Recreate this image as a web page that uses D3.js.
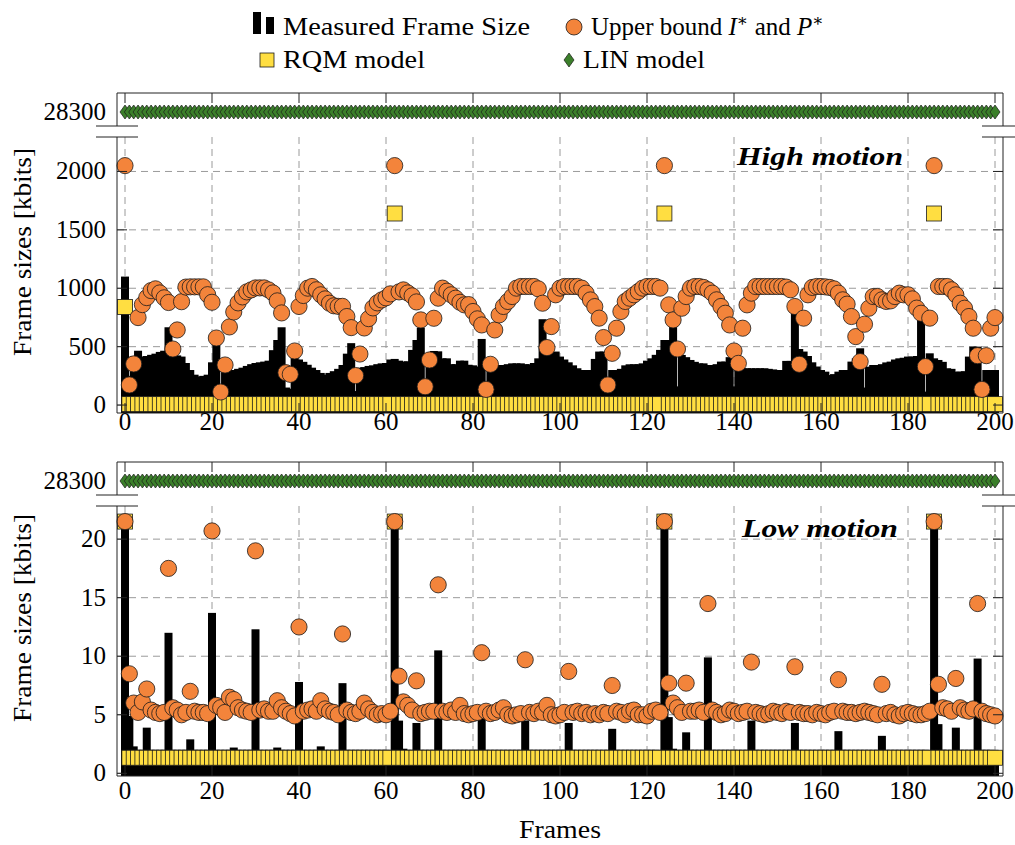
<!DOCTYPE html>
<html>
<head>
<meta charset="utf-8">
<script src="https://cdnjs.cloudflare.com/ajax/libs/d3/7.8.5/d3.min.js"></script>
<style>
  body { margin: 0; background: #fff; }
  svg text { font-family: "Liberation Serif", "DejaVu Serif", serif; fill: #000; }
</style>
</head>
<body>
<div id="chart"></div>
<script>
// frame index 0..200
var frames = d3.range(0, 201);
var frameTicks = [0, 20, 40, 60, 80, 100, 120, 140, 160, 180, 200];

// ---- high motion panel ----
var highTicks = [0, 500, 1000, 1500, 2000];
var highMeasured = [
  1100, 250, 420, 465, 415, 420, 430, 440, 455, 465,
  666, 430, 425, 415, 360, 300, 260, 245, 250, 260,
  366, 592, 130, 290, 295, 300, 310, 320, 335, 350,
  360, 366, 372, 380, 470, 557, 666, 150, 140, 415,
  390, 370, 345, 320, 300, 275, 260, 275, 290, 310,
  343, 440, 530, 120, 320, 325, 335, 340, 350, 357,
  360, 390, 395, 380, 372, 375, 472, 557, 663, 130,
  400, 463, 460, 400, 400, 350, 350, 380, 380, 345,
  340, 330, 566, 140, 330, 335, 343, 343, 350, 357,
  357, 357, 350, 349, 360, 400, 735, 443, 450, 458,
  415, 390, 366, 340, 315, 300, 300, 300, 395, 458,
  458, 200, 300, 300, 310, 340, 349, 349, 350, 357,
  380, 400, 430, 472, 557, 557, 672, 160, 429, 410,
  386, 370, 357, 357, 343, 343, 350, 372, 372, 410,
  160, 300, 315, 315, 315, 315, 315, 315, 310, 305,
  300, 300, 378, 378, 880, 480, 458, 420, 366, 330,
  300, 286, 257, 265, 286, 300, 300, 372, 400, 486,
  150, 329, 343, 343, 350, 365, 372, 390, 400, 405,
  415, 415, 420, 800, 115, 443, 400, 386, 370, 315,
  310, 286, 286, 290, 415, 500, 500, 100, 300, 300,
  300
];
var highUpper = [
  2050, 172, 352, 749, 860, 920, 980, 995, 960, 918,
  878, 480, 643, 885, 1010, 1012, 1012, 1012, 1012, 945,
  880, 574, 112, 343, 669, 797, 875, 926, 969, 986,
  1003, 1003, 1003, 986, 960, 892, 789, 277, 263, 463,
  844, 938, 1001, 1015, 987, 944, 909, 872, 850, 845,
  845, 758, 663, 252, 437, 660, 740, 832, 875, 900,
  918, 952, 2050, 969, 986, 960, 935, 883, 729, 157,
  386, 743, 915, 1001, 975, 944, 915, 880, 858, 860,
  801, 738, 686, 134, 349, 643, 772, 844, 887, 929,
  1001, 1015, 1015, 1015, 1015, 995, 872, 492, 672, 944,
  1001, 1015, 1015, 1015, 1015, 1001, 958, 900, 843, 744,
  578, 172, 443, 658, 801, 887, 915, 944, 972, 1001,
  1015, 1015, 1015, 1001, 2050, 858, 729, 480, 829, 929,
  1001, 1015, 1015, 1007, 987, 958, 901, 844, 786, 686,
  463, 357, 658, 858, 958, 1015, 1015, 1015, 1015, 1015,
  1015, 1015, 1010, 987, 844, 349, 744, 944, 1007, 1015,
  1015, 1012, 1007, 995, 958, 901, 864, 758, 586, 372,
  692, 829, 929, 929, 901, 887, 892, 929, 958, 944,
  944, 909, 830, 786, 329, 744, 2050, 1015, 1015, 1015,
  987, 944, 872, 829, 758, 658, 423, 134, 423, 658,
  749
];
var highRqm = [
  840, 8, 8, 8, 8, 8, 8, 8, 8, 8, 8, 8, 8, 8, 8, 8, 8, 8, 8, 8,
  8, 8, 8, 8, 8, 8, 8, 8, 8, 8, 8, 8, 8, 8, 8, 8, 8, 8, 8, 8,
  8, 8, 8, 8, 8, 8, 8, 8, 8, 8, 8, 8, 8, 8, 8, 8, 8, 8, 8, 8,
  8, 8, 1640, 8, 8, 8, 8, 8, 8, 8, 8, 8, 8, 8, 8, 8, 8, 8, 8, 8,
  8, 8, 8, 8, 8, 8, 8, 8, 8, 8, 8, 8, 8, 8, 8, 8, 8, 8, 8, 8,
  8, 8, 8, 8, 8, 8, 8, 8, 8, 8, 8, 8, 8, 8, 8, 8, 8, 8, 8, 8,
  8, 8, 8, 8, 1640, 8, 8, 8, 8, 8, 8, 8, 8, 8, 8, 8, 8, 8, 8, 8,
  8, 8, 8, 8, 8, 8, 8, 8, 8, 8, 8, 8, 8, 8, 8, 8, 8, 8, 8, 8,
  8, 8, 8, 8, 8, 8, 8, 8, 8, 8, 8, 8, 8, 8, 8, 8, 8, 8, 8, 8,
  8, 8, 8, 8, 8, 8, 1640, 8, 8, 8, 8, 8, 8, 8, 8, 8, 8, 8, 8, 8,
  8
];
var highLin = [
  28300, 28300, 28300, 28300, 28300, 28300, 28300, 28300, 28300, 28300, 28300, 28300, 28300, 28300, 28300, 28300, 28300, 28300, 28300, 28300,
  28300, 28300, 28300, 28300, 28300, 28300, 28300, 28300, 28300, 28300, 28300, 28300, 28300, 28300, 28300, 28300, 28300, 28300, 28300, 28300,
  28300, 28300, 28300, 28300, 28300, 28300, 28300, 28300, 28300, 28300, 28300, 28300, 28300, 28300, 28300, 28300, 28300, 28300, 28300, 28300,
  28300, 28300, 28300, 28300, 28300, 28300, 28300, 28300, 28300, 28300, 28300, 28300, 28300, 28300, 28300, 28300, 28300, 28300, 28300, 28300,
  28300, 28300, 28300, 28300, 28300, 28300, 28300, 28300, 28300, 28300, 28300, 28300, 28300, 28300, 28300, 28300, 28300, 28300, 28300, 28300,
  28300, 28300, 28300, 28300, 28300, 28300, 28300, 28300, 28300, 28300, 28300, 28300, 28300, 28300, 28300, 28300, 28300, 28300, 28300, 28300,
  28300, 28300, 28300, 28300, 28300, 28300, 28300, 28300, 28300, 28300, 28300, 28300, 28300, 28300, 28300, 28300, 28300, 28300, 28300, 28300,
  28300, 28300, 28300, 28300, 28300, 28300, 28300, 28300, 28300, 28300, 28300, 28300, 28300, 28300, 28300, 28300, 28300, 28300, 28300, 28300,
  28300, 28300, 28300, 28300, 28300, 28300, 28300, 28300, 28300, 28300, 28300, 28300, 28300, 28300, 28300, 28300, 28300, 28300, 28300, 28300,
  28300, 28300, 28300, 28300, 28300, 28300, 28300, 28300, 28300, 28300, 28300, 28300, 28300, 28300, 28300, 28300, 28300, 28300, 28300, 28300,
  28300
];

// ---- low motion panel ----
var lowTicks = [0, 5, 10, 15, 20];
var lowMeasured = [
  21.8, 4.9, 2.3, 1.6, 1.6, 3.9, 1.6, 1.6, 1.6, 1.6,
  12.0, 1.6, 1.6, 1.6, 1.6, 2.9, 1.6, 1.6, 1.6, 1.6,
  13.7, 1.6, 1.6, 1.6, 1.6, 2.2, 1.6, 1.6, 1.6, 1.6,
  12.3, 1.6, 1.6, 1.6, 1.6, 2.2, 1.6, 1.6, 1.6, 1.6,
  7.8, 1.6, 1.6, 1.6, 1.6, 2.3, 1.6, 1.6, 1.6, 1.6,
  7.7, 1.6, 1.6, 1.6, 1.6, 1.9, 1.6, 1.6, 1.6, 1.6,
  1.6, 1.6, 21.8, 4.5, 2.1, 1.6, 1.6, 4.3, 1.6, 1.6,
  1.6, 1.6, 10.5, 1.6, 1.6, 1.6, 1.6, 1.9, 1.6, 1.6,
  1.6, 1.6, 5.5, 1.6, 1.6, 1.6, 1.6, 1.9, 1.6, 1.6,
  1.6, 1.6, 4.5, 1.6, 1.6, 1.6, 1.6, 1.9, 1.6, 1.6,
  1.6, 1.6, 4.3, 1.6, 1.6, 1.6, 1.6, 1.9, 1.6, 1.6,
  1.6, 1.6, 3.8, 1.6, 1.6, 1.6, 1.6, 1.9, 1.6, 1.6,
  1.6, 1.6, 1.6, 1.6, 21.8, 4.8, 2.1, 1.6, 1.6, 3.5,
  1.6, 1.6, 1.6, 1.6, 9.9, 1.6, 1.6, 1.6, 1.6, 1.9,
  1.6, 1.6, 1.6, 1.6, 4.5, 1.6, 1.6, 1.6, 1.6, 1.9,
  1.6, 1.6, 1.6, 1.6, 4.3, 1.6, 1.6, 1.6, 1.6, 1.9,
  1.6, 1.6, 1.6, 1.6, 3.6, 1.6, 1.6, 1.6, 1.6, 1.9,
  1.6, 1.6, 1.6, 1.6, 3.2, 1.6, 1.6, 1.6, 1.6, 1.9,
  1.6, 1.6, 1.6, 1.6, 1.6, 1.6, 21.8, 4.2, 2.0, 1.6,
  1.6, 3.9, 1.6, 1.6, 1.6, 1.6, 9.8, 1.6, 1.6, 1.6,
  1.6
];
var lowUpper = [
  21.5, 8.5, 6.0, 5.2, 6.1, 7.2, 5.4, 5.2, 5.1, 5.2,
  17.5, 5.6, 5.4, 5.0, 5.2, 7.0, 5.3, 5.2, 5.2, 5.1,
  20.7, 5.8, 5.6, 5.2, 6.5, 6.3, 5.6, 5.4, 5.3, 5.2,
  19.0, 5.4, 5.5, 5.3, 5.3, 6.2, 5.6, 5.3, 5.1, 4.9,
  12.5, 5.3, 5.4, 5.5, 5.3, 6.2, 5.5, 5.3, 5.2, 5.0,
  11.9, 5.4, 5.2, 5.1, 5.3, 6.0, 5.5, 5.2, 5.0, 5.1,
  5.0, 5.3, 21.5, 8.3, 6.1, 5.8, 5.4, 7.9, 5.1, 5.2,
  5.3, 5.3, 16.1, 5.3, 5.2, 5.4, 5.2, 5.8, 5.1, 5.0,
  5.1, 5.2, 10.3, 5.3, 5.1, 5.2, 5.4, 5.6, 5.0, 4.9,
  5.0, 5.1, 9.7, 5.2, 5.1, 5.3, 5.2, 5.8, 5.0, 4.9,
  5.0, 5.2, 8.7, 5.2, 5.3, 5.1, 5.2, 5.0, 5.1, 5.0,
  5.2, 5.1, 7.5, 5.3, 5.2, 5.0, 5.3, 5.4, 5.0, 5.0,
  4.9, 5.3, 5.4, 5.2, 21.5, 7.7, 6.0, 5.6, 5.2, 7.7,
  5.3, 5.3, 5.4, 5.2, 14.5, 5.4, 5.2, 5.0, 5.1, 5.4,
  5.3, 5.1, 5.2, 5.3, 9.5, 5.2, 5.1, 5.0, 5.1, 5.3,
  5.2, 5.1, 5.3, 5.2, 9.1, 5.2, 5.1, 5.1, 5.0, 5.2,
  5.1, 5.0, 5.2, 5.3, 8.0, 5.3, 5.2, 5.2, 5.1, 5.2,
  5.3, 5.2, 5.1, 5.0, 7.6, 5.1, 5.2, 5.0, 4.9, 5.1,
  5.2, 5.1, 5.0, 5.0, 5.1, 5.3, 21.5, 7.6, 5.6, 5.5,
  5.3, 8.1, 5.6, 5.4, 5.3, 5.5, 14.5, 5.3, 5.1, 5.0,
  4.9
];
var lowRqm = [
  21.5, 1.33, 1.33, 1.33, 1.33, 1.33, 1.33, 1.33, 1.33, 1.33, 1.33, 1.33, 1.33, 1.33, 1.33, 1.33, 1.33, 1.33, 1.33, 1.33,
  1.33, 1.33, 1.33, 1.33, 1.33, 1.33, 1.33, 1.33, 1.33, 1.33, 1.33, 1.33, 1.33, 1.33, 1.33, 1.33, 1.33, 1.33, 1.33, 1.33,
  1.33, 1.33, 1.33, 1.33, 1.33, 1.33, 1.33, 1.33, 1.33, 1.33, 1.33, 1.33, 1.33, 1.33, 1.33, 1.33, 1.33, 1.33, 1.33, 1.33,
  1.33, 1.33, 21.5, 1.33, 1.33, 1.33, 1.33, 1.33, 1.33, 1.33, 1.33, 1.33, 1.33, 1.33, 1.33, 1.33, 1.33, 1.33, 1.33, 1.33,
  1.33, 1.33, 1.33, 1.33, 1.33, 1.33, 1.33, 1.33, 1.33, 1.33, 1.33, 1.33, 1.33, 1.33, 1.33, 1.33, 1.33, 1.33, 1.33, 1.33,
  1.33, 1.33, 1.33, 1.33, 1.33, 1.33, 1.33, 1.33, 1.33, 1.33, 1.33, 1.33, 1.33, 1.33, 1.33, 1.33, 1.33, 1.33, 1.33, 1.33,
  1.33, 1.33, 1.33, 1.33, 21.5, 1.33, 1.33, 1.33, 1.33, 1.33, 1.33, 1.33, 1.33, 1.33, 1.33, 1.33, 1.33, 1.33, 1.33, 1.33,
  1.33, 1.33, 1.33, 1.33, 1.33, 1.33, 1.33, 1.33, 1.33, 1.33, 1.33, 1.33, 1.33, 1.33, 1.33, 1.33, 1.33, 1.33, 1.33, 1.33,
  1.33, 1.33, 1.33, 1.33, 1.33, 1.33, 1.33, 1.33, 1.33, 1.33, 1.33, 1.33, 1.33, 1.33, 1.33, 1.33, 1.33, 1.33, 1.33, 1.33,
  1.33, 1.33, 1.33, 1.33, 1.33, 1.33, 21.5, 1.33, 1.33, 1.33, 1.33, 1.33, 1.33, 1.33, 1.33, 1.33, 1.33, 1.33, 1.33, 1.33,
  1.33
];
var lowLin = highLin.slice();
var linTick = [28300];

// colours
var orange = "#f3843b", yellow = "#ffde41", green = "#3b7f2a", gridGrey = "#9a9a9a";

var svg = d3.select("#chart").append("svg").attr("width", 1015).attr("height", 845);

var x = d3.scaleLinear().domain([0, 200]).range([125, 995]);
var boxLeft = 117, boxRight = 1003;
var barW = 8;

var panels = [
  { id: "hi", top: 93, breakTop: 126, lowTop: 137, bottom: 413, domain: [-68, 2295], ticks: highTicks,
    bars: highMeasured, upper: highUpper, rqm: highRqm, lin: highLin, title: "High motion", titleY: 165, titleW: 166,
    xLabelY: 430, yLabelY: 252 },
  { id: "lo", top: 462, breakTop: 495, lowTop: 506, bottom: 776, domain: [-0.23, 22.83], ticks: lowTicks,
    bars: lowMeasured, upper: lowUpper, rqm: lowRqm, lin: lowLin, title: "Low motion", titleY: 537, titleW: 156,
    xLabelY: 799, yLabelY: 618 }
];

panels.forEach(function (p) {
  var yLow = d3.scaleLinear().domain(p.domain).range([p.bottom, p.lowTop]);
  var yHigh = d3.scaleLinear().domain([28160, 28490]).range([p.breakTop, p.top]);
  var g = svg.append("g");

  g.append("clipPath").attr("id", "clip-" + p.id).append("rect")
    .attr("x", boxLeft).attr("y", p.lowTop).attr("width", boxRight - boxLeft).attr("height", p.bottom - p.lowTop);

  // dashed grid in the lower part
  g.selectAll(".vgrid").data(frameTicks).enter().append("line")
    .attr("x1", function (d) { return x(d); }).attr("x2", function (d) { return x(d); })
    .attr("y1", p.lowTop).attr("y2", p.bottom)
    .attr("stroke", gridGrey).attr("stroke-width", 1).attr("stroke-dasharray", "7,5");
  g.selectAll(".hgrid").data(p.ticks).enter().append("line")
    .attr("x1", boxLeft).attr("x2", boxRight)
    .attr("y1", function (d) { return yLow(d); }).attr("y2", function (d) { return yLow(d); })
    .attr("stroke", gridGrey).attr("stroke-width", 1).attr("stroke-dasharray", "7,5");

  // measured frame size bars
  g.append("g").attr("clip-path", "url(#clip-" + p.id + ")")
    .selectAll("rect").data(frames).enter().append("rect")
    .attr("x", function (d) { return x(d) - barW / 2; })
    .attr("width", barW)
    .attr("y", function (d) { return yLow(p.bars[d]); })
    .attr("height", function (d) { return p.bottom - yLow(p.bars[d]); })
    .attr("fill", "#000");

  // RQM model squares
  g.append("g").selectAll("rect").data(frames).enter().append("rect")
    .attr("x", function (d) { return x(d) - 7.5; })
    .attr("y", function (d) { return Math.min(yLow(p.rqm[d]) - 7.5, p.bottom - 15); })
    .attr("width", 15).attr("height", 15)
    .attr("fill", yellow).attr("stroke", "#1a1a1a").attr("stroke-width", 0.8);

  // upper bound circles
  g.append("g").selectAll("circle").data(frames).enter().append("circle")
    .attr("cx", function (d) { return x(d); })
    .attr("cy", function (d) { return yLow(p.upper[d]); })
    .attr("r", 8.1)
    .attr("fill", orange).attr("stroke", "#1a1a1a").attr("stroke-width", 0.8);

  // LIN model diamonds in the broken-off top strip
  g.append("g").selectAll("path").data(frames).enter().append("path")
    .attr("d", "M0,-7L5,0L0,7L-5,0Z")
    .attr("transform", function (d) { return "translate(" + x(d) + "," + yHigh(p.lin[d]) + ")"; })
    .attr("fill", green).attr("stroke", "#1a1a1a").attr("stroke-width", 0.7);

  // axis frame: top strip and lower part
  var ax = g.append("g").attr("stroke", "#222").attr("stroke-width", 1).attr("fill", "none");
  ax.append("path").attr("d", "M" + boxLeft + "," + p.breakTop + "V" + p.top + "H" + boxRight + "V" + p.breakTop);
  ax.append("path").attr("d", "M" + boxLeft + "," + p.lowTop + "V" + p.bottom + "H" + boxRight + "V" + p.lowTop);
  // break marks
  [boxLeft, boxRight].forEach(function (bx) {
    ax.append("line").attr("x1", bx - 21).attr("x2", bx + 21).attr("y1", p.breakTop).attr("y2", p.breakTop);
    ax.append("line").attr("x1", bx - 21).attr("x2", bx + 21).attr("y1", p.lowTop).attr("y2", p.lowTop);
  });
  // tick marks
  frameTicks.forEach(function (t) {
    ax.append("line").attr("x1", x(t)).attr("x2", x(t)).attr("y1", p.top).attr("y2", p.top + 10);
    ax.append("line").attr("x1", x(t)).attr("x2", x(t)).attr("y1", p.bottom).attr("y2", p.bottom - 10);
  });
  p.ticks.forEach(function (t) {
    ax.append("line").attr("x1", boxLeft).attr("x2", boxLeft + 10).attr("y1", yLow(t)).attr("y2", yLow(t));
    ax.append("line").attr("x1", boxRight).attr("x2", boxRight - 10).attr("y1", yLow(t)).attr("y2", yLow(t));
  });

  // tick labels
  g.selectAll(".ylab").data(p.ticks).enter().append("text")
    .attr("x", 106).attr("y", function (d) { return yLow(d) + 8; })
    .attr("text-anchor", "end").attr("font-size", 25).text(function (d) { return d; });
  g.selectAll(".ylab2").data(linTick).enter().append("text")
    .attr("x", 106).attr("y", function (d) { return yHigh(d) + 8; })
    .attr("text-anchor", "end").attr("font-size", 25).text(function (d) { return d; });
  g.selectAll(".xlab").data(frameTicks).enter().append("text")
    .attr("x", function (d) { return x(d); }).attr("y", p.xLabelY)
    .attr("text-anchor", "middle").attr("font-size", 25).text(function (d) { return d; });

  // axis title
  g.append("text").attr("transform", "translate(31," + p.yLabelY + ") rotate(-90)")
    .attr("text-anchor", "middle").attr("font-size", 25).attr("textLength", 208).attr("lengthAdjust", "spacingAndGlyphs")
    .text("Frame sizes [kbits]");

  // panel title
  g.append("text").attr("x", 820).attr("y", p.titleY).attr("text-anchor", "middle")
    .attr("font-size", 25).attr("font-weight", "bold").attr("font-style", "italic")
    .attr("textLength", p.titleW).attr("lengthAdjust", "spacingAndGlyphs")
    .text(p.title);
});

// x axis title
svg.append("text").attr("x", 560).attr("y", 838).attr("text-anchor", "middle").attr("font-size", 25)
  .attr("textLength", 82).attr("lengthAdjust", "spacingAndGlyphs").text("Frames");

// legend
var leg = svg.append("g");
leg.append("rect").attr("x", 253).attr("y", 12).attr("width", 8).attr("height", 22).attr("fill", "#000");
leg.append("rect").attr("x", 266).attr("y", 17).attr("width", 8).attr("height", 17).attr("fill", "#000");
leg.append("text").attr("x", 283).attr("y", 35).attr("font-size", 25)
  .attr("textLength", 247).attr("lengthAdjust", "spacingAndGlyphs").text("Measured Frame Size");

leg.append("circle").attr("cx", 574).attr("cy", 27).attr("r", 8)
  .attr("fill", orange).attr("stroke", "#1a1a1a").attr("stroke-width", 0.8);
var t2 = leg.append("text").attr("x", 591).attr("y", 35).attr("font-size", 25);
t2.append("tspan").text("Upper bound ");
t2.append("tspan").attr("font-style", "italic").text("I");
t2.append("tspan").attr("font-size", 17).attr("dy", -9).text("\u2217");
t2.append("tspan").attr("dy", 9).text(" and ");
t2.append("tspan").attr("font-style", "italic").text("P");
t2.append("tspan").attr("font-size", 17).attr("dy", -9).text("\u2217");

leg.append("rect").attr("x", 260).attr("y", 53).attr("width", 14).attr("height", 14)
  .attr("fill", yellow).attr("stroke", "#1a1a1a").attr("stroke-width", 0.8);
leg.append("text").attr("x", 283).attr("y", 68).attr("font-size", 25)
  .attr("textLength", 142).attr("lengthAdjust", "spacingAndGlyphs").text("RQM model");

leg.append("path").attr("d", "M0,-7L5,0L0,7L-5,0Z").attr("transform", "translate(569,60)")
  .attr("fill", green).attr("stroke", "#1a1a1a").attr("stroke-width", 0.7);
leg.append("text").attr("x", 583).attr("y", 68).attr("font-size", 25)
  .attr("textLength", 122).attr("lengthAdjust", "spacingAndGlyphs").text("LIN model");
</script>
</body>
</html>
